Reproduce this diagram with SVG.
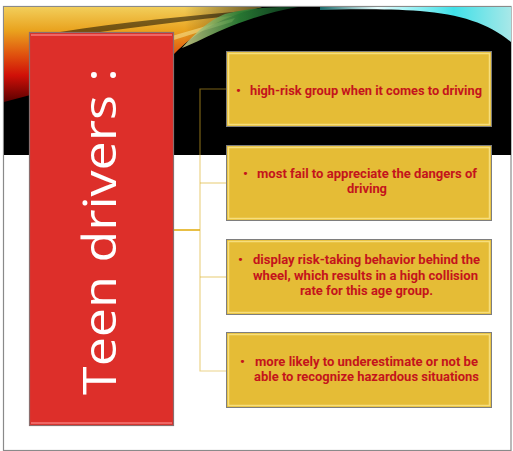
<svg xmlns="http://www.w3.org/2000/svg" width="513" height="451" viewBox="0 0 513 451">
<defs>
<linearGradient id="warm" x1="0" y1="0" x2="0" y2="1">
<stop offset="0" stop-color="#F2CE5A"/>
<stop offset="0.25" stop-color="#E9A21E"/>
<stop offset="0.5" stop-color="#E0520E"/>
<stop offset="0.72" stop-color="#D01008"/>
<stop offset="1" stop-color="#5A0000"/>
</linearGradient>
<linearGradient id="warmH" x1="0" y1="0" x2="1" y2="0">
<stop offset="0" stop-color="#000" stop-opacity="0"/>
<stop offset="0.7" stop-color="#000" stop-opacity="0"/>
<stop offset="1" stop-color="#000" stop-opacity="0.6"/>
</linearGradient>
<linearGradient id="green" x1="0" y1="0" x2="1" y2="0">
<stop offset="0" stop-color="#D8D890"/>
<stop offset="0.5" stop-color="#2E8A3A"/>
<stop offset="1" stop-color="#0A3A20"/>
</linearGradient>
<linearGradient id="cyan" x1="0" y1="0" x2="1" y2="0">
<stop offset="0" stop-color="#1A6A6A"/>
<stop offset="0.3" stop-color="#E8FFFF"/>
<stop offset="0.7" stop-color="#40E0E8"/>
<stop offset="1" stop-color="#A8E8E8"/>
</linearGradient>
<style>
.ybox{fill:#E5BC36;stroke:#7E7E7E;stroke-width:1}
.ybev{fill:none;stroke:#F7DE7C;stroke-width:1.5}
.t{font-family:"Roboto","Liberation Sans",sans-serif;font-weight:bold;font-size:13.5px;fill:#C4141C}
.conn{fill:none;stroke:#DDB02A;stroke-width:1.2;stroke-opacity:0.55}
</style>
</defs>
<rect x="0" y="0" width="513" height="451" fill="#fff"/>
<rect x="3.5" y="6.5" width="507.5" height="444" fill="#fff" stroke="#8a8a8a" stroke-width="1.2"/>
<rect x="4" y="7" width="507" height="148" fill="#000"/>
<path d="M4,7 L262,7 C230,14 200,28 178,50 L170,58 L4,102 Z" fill="url(#warm)"/>
<path d="M4,7 L262,7 C230,14 200,28 178,50 L170,58 L4,102 Z" fill="url(#warmH)"/>
<path d="M60,32 C120,22 190,16 255,10 L250,14 C190,20 130,28 70,36 Z" fill="#000" opacity="0.5"/>
<path d="M150,42 C180,34 205,26 235,18 L232,22 C205,30 180,38 155,46 Z" fill="#F4E08A" opacity="0.6"/>
<path d="M225,14 C245,9 265,7 290,7 L298,7 C270,12 245,20 222,30 C210,35 195,43 182,48 C198,30 210,20 225,14 Z" fill="url(#green)" opacity="0.85"/>
<path d="M320,7 L511,7 L511,42 C490,24 460,14 420,11 C390,9 350,9 320,10 Z" fill="url(#cyan)"/>
<g id="connectors">
<line x1="174" y1="230" x2="200" y2="230" stroke="#E6B830" stroke-width="1.8"/>
<polyline class="conn" points="226,89 200,89 200,371 226,371"/>
<line class="conn" x1="200" y1="183" x2="226" y2="183"/>
<line class="conn" x1="200" y1="277" x2="226" y2="277"/>
</g>
<g id="teen-drivers">
<rect x="29.5" y="32.5" width="144" height="393" fill="#DD2F2A" stroke="#8A6E6E" stroke-width="1.2"/>
<line x1="31" y1="35" x2="172" y2="35" stroke="#F47A78" stroke-width="1.5"/>
<line x1="31" y1="423" x2="172" y2="423" stroke="#F47A78" stroke-width="1.5"/>
<text transform="translate(116,231.5) rotate(-90)" text-anchor="middle" font-family="'Open Sans','DejaVu Sans',sans-serif" font-weight="normal" font-size="46" fill="#fff" textLength="327" lengthAdjust="spacingAndGlyphs">Teen drivers :</text>
</g>
<g id="box1">
<rect class="ybox" x="226.5" y="51.5" width="265" height="75"/>
<rect class="ybev" x="228.5" y="53.5" width="261" height="71"/>
<text class="t" x="236" y="95">•</text>
<text class="t" x="250" y="95" textLength="232" lengthAdjust="spacingAndGlyphs">high-risk group when it comes to driving</text>
</g>
<g id="box2">
<rect class="ybox" x="226.5" y="145.5" width="265" height="75"/>
<rect class="ybev" x="228.5" y="147.5" width="261" height="71"/>
<text class="t" x="243" y="178">•</text>
<text class="t" x="257" y="178" textLength="220" lengthAdjust="spacingAndGlyphs">most fail to appreciate the dangers of</text>
<text class="t" x="347" y="193" textLength="40" lengthAdjust="spacingAndGlyphs">driving</text>
</g>
<g id="box3">
<rect class="ybox" x="226.5" y="239.5" width="265" height="75"/>
<rect class="ybev" x="228.5" y="241.5" width="261" height="71"/>
<text class="t" x="238" y="264">•</text>
<text class="t" x="253" y="264" textLength="227" lengthAdjust="spacingAndGlyphs">display risk-taking behavior behind the</text>
<text class="t" x="253" y="280" textLength="225" lengthAdjust="spacingAndGlyphs">wheel, which results in a high collision</text>
<text class="t" x="300" y="295" textLength="133" lengthAdjust="spacingAndGlyphs">rate for this age group.</text>
</g>
<g id="box4">
<rect class="ybox" x="226.5" y="332.5" width="265" height="75"/>
<rect class="ybev" x="228.5" y="334.5" width="261" height="71"/>
<text class="t" x="240" y="366">•</text>
<text class="t" x="255" y="366" textLength="223" lengthAdjust="spacingAndGlyphs">more likely to underestimate or not be</text>
<text class="t" x="254" y="381" textLength="225" lengthAdjust="spacingAndGlyphs">able to recognize hazardous situations</text>
</g>
</svg>
